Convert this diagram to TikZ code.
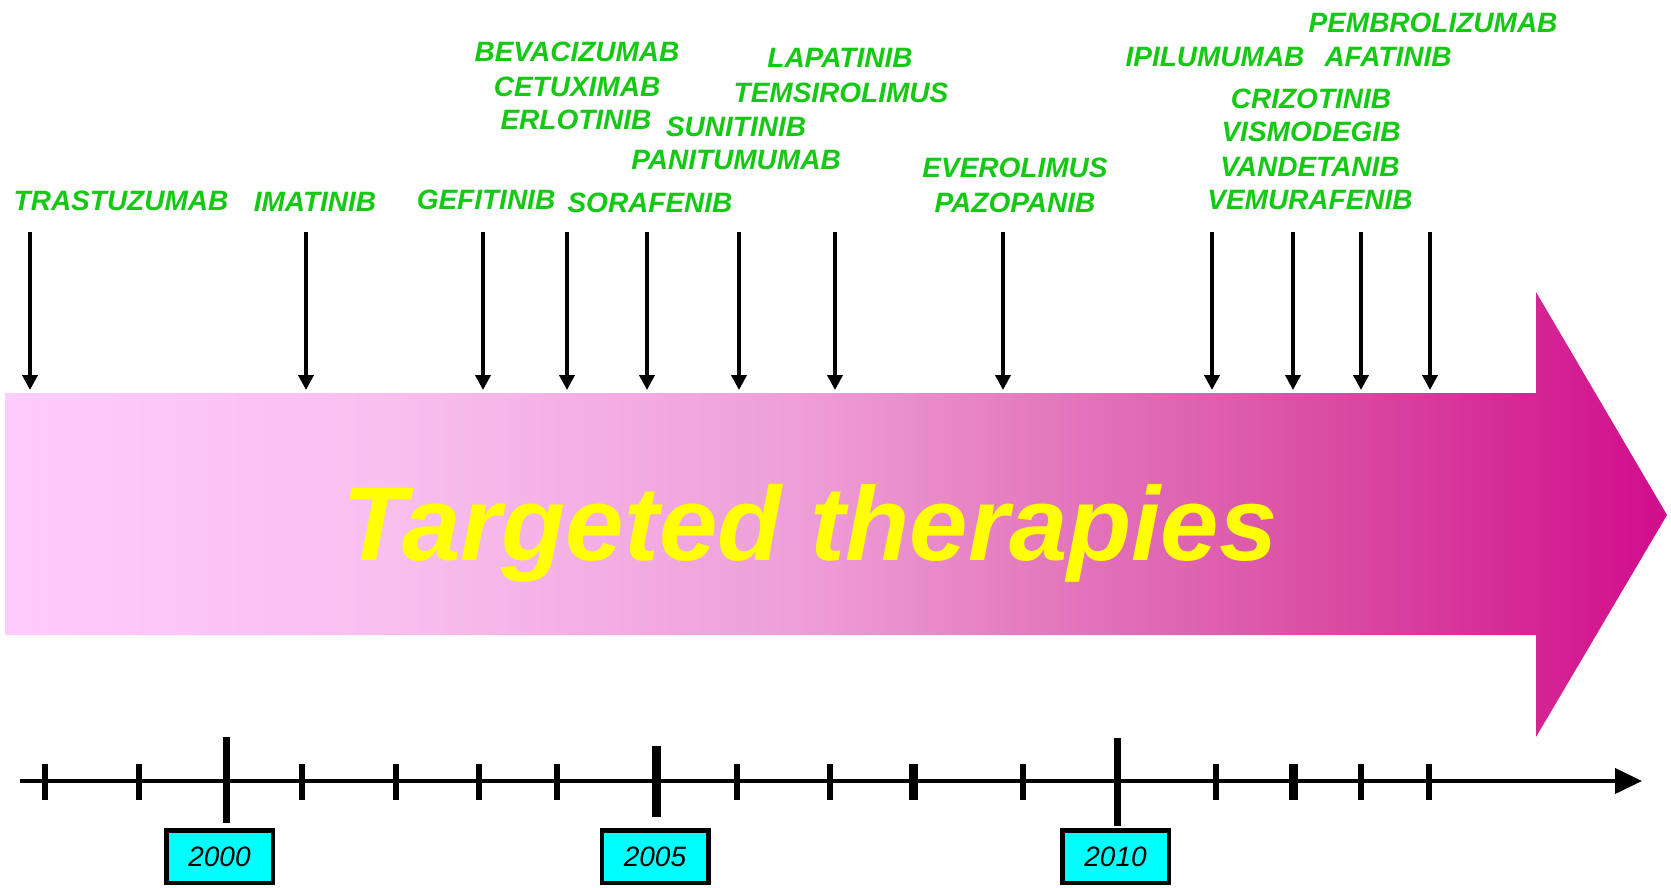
\documentclass[tikz,border=0pt]{standalone}
\usepackage{fontspec}
\setmainfont{Liberation Sans}
\usetikzlibrary{arrows.meta}
\definecolor{drug}{RGB}{20,200,20}
\definecolor{titley}{RGB}{255,255,0}
\definecolor{yearfill}{RGB}{0,255,255}
\definecolor{pz}{RGB}{255,204,252}
\definecolor{pa}{RGB}{253,200,250}
\definecolor{pb}{RGB}{248,190,238}
\definecolor{pc}{RGB}{238,158,216}
\definecolor{pd}{RGB}{230,128,194}
\definecolor{pe}{RGB}{222,98,176}
\definecolor{pf}{RGB}{216,64,158}
\definecolor{pg}{RGB}{209,12,140}
\pgfdeclarehorizontalshading{pinkbar}{100bp}{color(0bp)=(pz); color(25bp)=(pz); color(27.9bp)=(pa); color(36.9bp)=(pb); color(48.9bp)=(pc); color(54.9bp)=(pd); color(60.9bp)=(pe); color(66.9bp)=(pf); color(75bp)=(pg); color(100bp)=(pg)}
\tikzset{
  drugl/.style={text=drug, font=\fontsize{28}{34}\selectfont\bfseries\itshape, inner sep=0pt, anchor=center},
  downarr/.style={line width=4pt, -{Triangle[length=15pt,width=15pt]}},
  axisline/.style={line width=4pt, -{Triangle[length=27pt,width=25pt]}},
  minortick/.style={line width=6pt},
  thicktick/.style={line width=9pt},
  majortick/.style={line width=7pt},
  yearbox/.style={draw=black, line width=4.5pt, fill=yearfill, minimum width=106.5pt, minimum height=52.5pt, inner sep=0pt, font=\fontsize{28}{34}\selectfont\itshape},
  titletext/.style={text=titley, font=\fontsize{105}{120}\selectfont\bfseries\itshape, inner sep=0pt, anchor=base}
}
\begin{document}
\begin{tikzpicture}[x=1pt,y=-1pt]
\useasboundingbox (0,0) rectangle (1671,887);
% big shaded arrow
\shade[shading=pinkbar] (5,393) -- (1536,393) -- (1536,292) -- (1667,515) -- (1536,737) -- (1536,635) -- (5,635) -- cycle;
\node[titletext] (title) at (810,560) {Targeted therapies};
% drug labels
\node[drugl] (tras) at (121,201) {TRASTUZUMAB};
\node[drugl] (imat) at (315,202) {IMATINIB};
\node[drugl] (gefi) at (486,200) {GEFITINIB};
\node[drugl] (sora) at (650,203) {SORAFENIB};
\node[drugl] (beva) at (577,52) {BEVACIZUMAB};
\node[drugl] (cetu) at (577,87) {CETUXIMAB};
\node[drugl] (erlo) at (576,120) {ERLOTINIB};
\node[drugl] (suni) at (736,127) {SUNITINIB};
\node[drugl] (pani) at (736,160) {PANITUMUMAB};
\node[drugl] (lapa) at (840,58) {LAPATINIB};
\node[drugl] (tems) at (841,93) {TEMSIROLIMUS};
\node[drugl] (ever) at (1015,168) {EVEROLIMUS};
\node[drugl] (pazo) at (1015,203) {PAZOPANIB};
\node[drugl] (pemb) at (1433,23) {PEMBROLIZUMAB};
\node[drugl] (ipil) at (1215,57) {IPILUMUMAB};
\node[drugl] (afat) at (1388,57) {AFATINIB};
\node[drugl] (criz) at (1311,99) {CRIZOTINIB};
\node[drugl] (vism) at (1311,132) {VISMODEGIB};
\node[drugl] (vand) at (1310,167) {VANDETANIB};
\node[drugl] (vemu) at (1310,200) {VEMURAFENIB};
% down arrows
\foreach \n/\x in {a/30,b/306,c/483,d/567,e/647,f/739,g/835,h/1003,i/1212,j/1293,k/1361,l/1430}{
  \coordinate (s\n) at (\x,232);
  \coordinate (t\n) at (\x,390);
  \draw[downarr] (s\n) -- (t\n);
}
% timeline
\coordinate (axs) at (20,781);
\coordinate (axe) at (1642,781);
\draw[axisline] (axs) -- (axe);
\foreach \x in {45,139,302,396,479,557,737,830,1023,1216,1361,1429}{
  \draw[minortick] (\x,764) -- (\x,800);
}
\foreach \x in {913,1293}{
  \draw[thicktick] (\x,764) -- (\x,800);
}
\draw[majortick] (226,737) -- (226,823);
\draw[thicktick] (656,746) -- (656,817);
\draw[majortick] (1117,738) -- (1117,826);
% year boxes
\node[yearbox] (y2000) at (219.5,856.5) {2000};
\node[yearbox] (y2005) at (655,856.5) {2005};
\node[yearbox] (y2010) at (1115.5,856.5) {2010};
\end{tikzpicture}
\end{document}
